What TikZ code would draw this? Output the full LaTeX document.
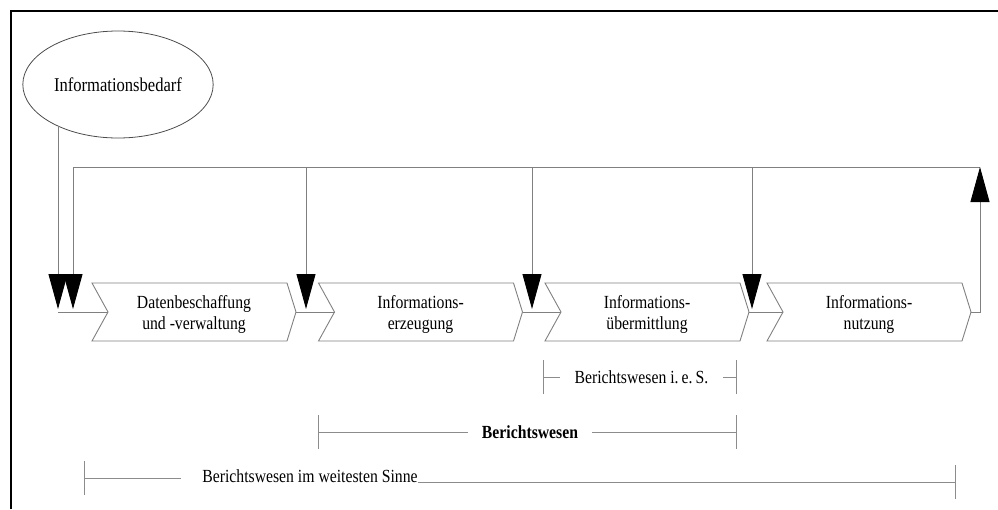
\documentclass[tikz,border=0pt]{standalone}
\usepackage{fontspec}
\setmainfont{Liberation Serif}[FakeStretch=0.85]
\usetikzlibrary{arrows.meta}
\usetikzlibrary{shapes.geometric}
\tikzset{
  line/.style={draw=black!50, line width=0.9pt},
  flow/.style={line, -{Triangle[width=19pt,length=35pt,color=black]}},
  stage/.style={align=center, inner sep=0pt},
  chevron/.style={draw=black!50, line width=0.9pt, line join=miter},
  span/.style={draw=black!45, line width=0.9pt},
  tick/.style={span, {Bar[width=34pt]}-},
}

\begin{document}
\begin{tikzpicture}[x=1pt, y=-1pt, font=\fontsize{18.5}{21}\selectfont]
  \useasboundingbox (0,0) rectangle (998,509);
  \draw [line width=2.6pt] (11,509) -- (11,11) -- (998,11);

  \node [ellipse, draw=black!70, line width=0.8pt, minimum width=186pt, minimum height=107pt,
    font=\fontsize{19.5}{22}\selectfont] (bedarf) at (118,84.5) {Informationsbedarf};

  % process chain
  \foreach \L/\txt [count=\i from 0] in {92/{Datenbeschaffung\\und -verwaltung},
      318.5/{Informations-\\erzeugung}, 545/{Informations-\\übermittlung}, 767/{Informations-\\nutzung}} {
    \coordinate (m\i) at ({\L+102},312);
    \draw [chevron] (m\i) ++(-102,-29) -- ++(195,0) -- ++(9,29) coordinate (t\i)
      -- ++(-9,29) -- ++(-195,0) -- ++(16,-29) coordinate (n\i) -- cycle;
    \node [stage, yshift=-2pt] (c\i) at (m\i) {\txt};
  }

  \coordinate (base) at (58,312);
  \coordinate (in0) at (58,309);
  \coordinate (bus0) at (73,167);
  \coordinate (busE) at (980,167);

  \draw [line] (bus0) -- (busE);
  \draw [flow] (bedarf.214 -| in0) -- (in0);
  \foreach \x [count=\k] in {73,306,532,752} {
    \coordinate (d\k) at (\x,167);
    \coordinate (e\k) at (\x,309);
    \draw [flow] (d\k) -- (e\k);
  }
  \draw [line] (base) -- (n0);
  \foreach \i [count=\j] in {0,1,2} \draw [line] (t\i) -- (n\j);
  \draw [flow] (t3) -| (busE);

  % ranges
  \node [inner xsep=14pt] (ies) at (641.5,377) {Berichtswesen i.\,e.\,S.};
  \coordinate (s1) at (543,377);
  \coordinate (s2) at (737,377);
  \draw [tick] (s1) -- (ies);
  \draw [tick] (s2) -- (ies);

  \node [inner xsep=14pt] (bw) at (530,432) {\bfseries Berichtswesen};
  \coordinate (b1) at (318,432);
  \coordinate (b2) at (737,432);
  \draw [tick] (b1) -- (bw);
  \draw [tick] (b2) -- (bw);

  \node [inner sep=0pt, anchor=base] (sinne) at (310,482) {Berichtswesen im weitesten Sinne};
  \coordinate (w1) at (84,478);
  \coordinate (w2) at (956,482);
  \draw [tick, shorten >=21pt] (w1) -- (w1 -| sinne.west);
  \draw [tick] (w2) -- (sinne.base east);
\end{tikzpicture}
\end{document}
